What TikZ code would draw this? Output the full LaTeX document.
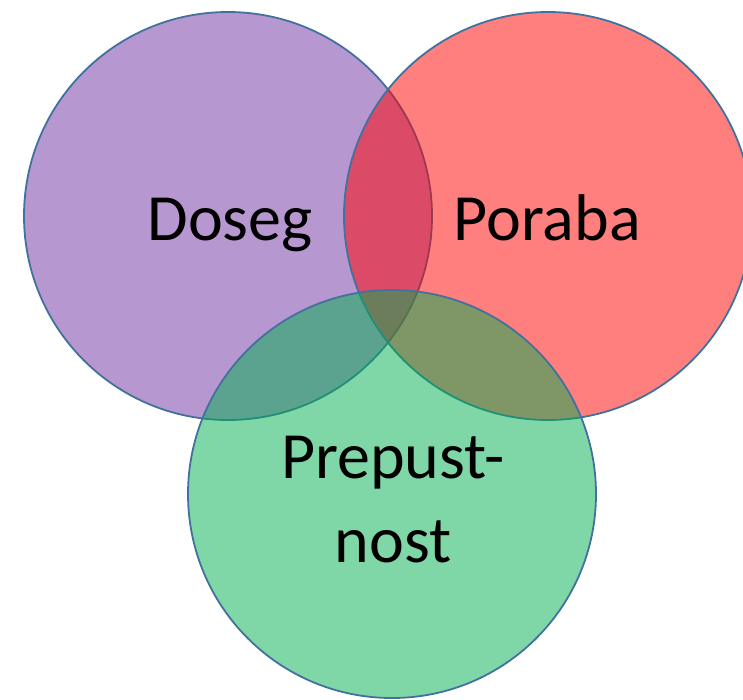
\documentclass[tikz,border=0pt]{standalone}
\usepackage{fontspec}
\setmainfont{Carlito}
\usepackage{tikz}
\usetikzlibrary{positioning}
\definecolor{vennpurple}{HTML}{7030A0}
\definecolor{vennred}{HTML}{FF0000}
\definecolor{venngreen}{HTML}{00B050}
\definecolor{vennline}{HTML}{41719C}
\begin{document}
\begin{tikzpicture}[x=1pt,y=-1pt,font=\fontsize{66}{84}\selectfont,
        set/.style={circle,draw=vennline,line width=1.8pt,fill opacity=0.5,minimum size=408pt,inner sep=0pt},
        setname/.style={anchor=base,align=center,inner sep=0pt}]
        \useasboundingbox (0,0) rectangle (743,699);
        \clip (0,0) rectangle (743,699);
        \node[set,fill=vennpurple] (doseg) at (228,216) {};
        \node[set,fill=vennred] (poraba) at (548,216) {};
        \node[set,fill=venngreen] (prepustnost) at (392,494) {};
        \node[setname] (dosegtext) at (230,240) {Doseg};
        \node[setname] (porabatext) at (547,240) {Poraba};
        \node[setname] (prepustnosttext) at (393,562) {Prepust-\\nost};
      \end{tikzpicture}
\end{document}
